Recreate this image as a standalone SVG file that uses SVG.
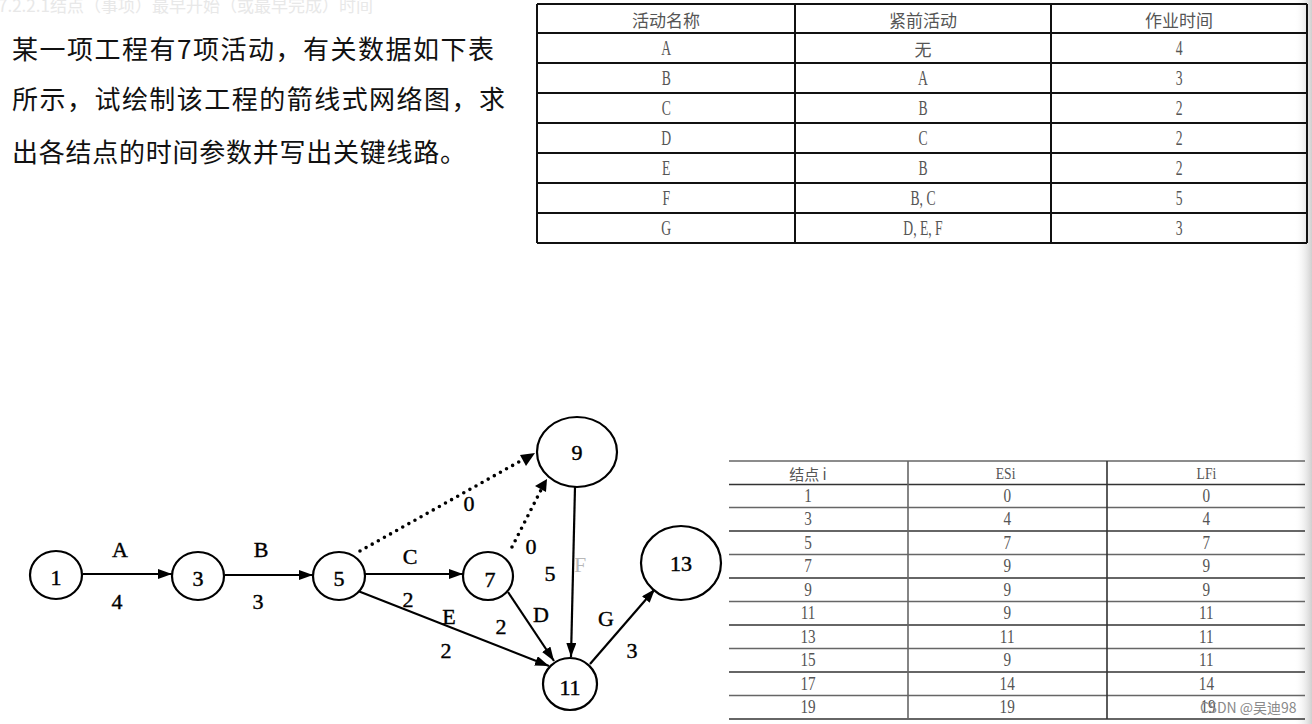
<svg xmlns="http://www.w3.org/2000/svg" width="1312" height="724" viewBox="0 0 1312 724">
<defs>
<marker id="ah" viewBox="0 0 14 10" refX="14" refY="5" markerWidth="14" markerHeight="10" markerUnits="userSpaceOnUse" orient="auto"><path d="M0,0 L14,5 L0,10 z" fill="#000"/></marker>
<linearGradient id="edge" x1="0" y1="0" x2="1" y2="0"><stop offset="0" stop-color="#fff" stop-opacity="0"/><stop offset="1" stop-color="#cfcfcf"/></linearGradient>
<style>
.node ellipse{fill:#fff;stroke:#000;stroke-width:2.2}
.nt{font-family:"Liberation Serif","DejaVu Serif",serif;font-size:22px;fill:#000;text-anchor:middle;dominant-baseline:central;stroke:#000;stroke-width:0.45}
.edge{stroke:#000;stroke-width:2.2;fill:none}
.dot{stroke:#000;stroke-width:3.6;stroke-linecap:round;stroke-dasharray:0 7;fill:none}
.lbl{font-family:"Liberation Serif","DejaVu Serif",serif;font-size:22px;fill:#000;text-anchor:middle;dominant-baseline:central;stroke:#000;stroke-width:0.4}
.faint{fill:#b8b8b8;stroke:none}
.para{font-family:"Noto Sans CJK SC","Noto Sans",sans-serif;font-size:26px;fill:#111}
.tl{stroke:#111;stroke-width:2}
.bl{stroke:#666;stroke-width:1.6}
.bd{stroke:#333;stroke-width:1.6}
.cj{font-family:"Noto Sans CJK SC",sans-serif;font-size:17px;fill:#555;text-anchor:middle;dominant-baseline:central}
.cn{font-family:"Liberation Serif",serif;font-size:21px;fill:#555;text-anchor:middle;dominant-baseline:central}
.bt{font-family:"Liberation Serif",serif;font-size:19px;fill:#555;text-anchor:middle;dominant-baseline:central}
</style>
</defs>
<rect width="1312" height="724" fill="#fff"/>
<rect x="1294" y="0" width="18" height="724" fill="url(#edge)"/>

<g id="heading">
<text x="-2" y="12" font-family="Noto Sans CJK SC,sans-serif" font-size="17" fill="#e8e8e8">7.2.2.1结点（事项）最早开始（或最早完成）时间</text>
<text class="para" x="12" y="59" textLength="482" lengthAdjust="spacing">某一项工程有7项活动，有关数据如下表</text>
<text class="para" x="12" y="109" textLength="493" lengthAdjust="spacing">所示，试绘制该工程的箭线式网络图，求</text>
<text class="para" x="12" y="162" textLength="454" lengthAdjust="spacing">出各结点的时间参数并写出关键线路。</text>
</g>

<g id="table-activities">
<line class="tl" x1="537" y1="4" x2="1307" y2="4"/>
<line class="tl" x1="537" y1="33" x2="1307" y2="33"/>
<line class="tl" x1="537" y1="63" x2="1307" y2="63"/>
<line class="tl" x1="537" y1="93" x2="1307" y2="93"/>
<line class="tl" x1="537" y1="123" x2="1307" y2="123"/>
<line class="tl" x1="537" y1="153" x2="1307" y2="153"/>
<line class="tl" x1="537" y1="183" x2="1307" y2="183"/>
<line class="tl" x1="537" y1="213" x2="1307" y2="213"/>
<line class="tl" x1="537" y1="243" x2="1307" y2="243"/>
<line class="tl" x1="537" y1="4" x2="537" y2="243"/>
<line class="tl" x1="795" y1="4" x2="795" y2="243"/>
<line class="tl" x1="1051" y1="4" x2="1051" y2="243"/>
<line class="tl" x1="1307" y1="4" x2="1307" y2="243"/>
<text class="cj" x="666" y="19">活动名称</text>
<text class="cj" x="923" y="19">紧前活动</text>
<text class="cj" x="1179" y="19">作业时间</text>
<text class="cj" x="923" y="48">无</text>
<g transform="scale(0.65,1)">
<text class="cn" x="1025" y="48">A</text><text class="cn" x="1814" y="48">4</text>
<text class="cn" x="1025" y="78">B</text><text class="cn" x="1420" y="78">A</text><text class="cn" x="1814" y="78">3</text>
<text class="cn" x="1025" y="108">C</text><text class="cn" x="1420" y="108">B</text><text class="cn" x="1814" y="108">2</text>
<text class="cn" x="1025" y="138">D</text><text class="cn" x="1420" y="138">C</text><text class="cn" x="1814" y="138">2</text>
<text class="cn" x="1025" y="168">E</text><text class="cn" x="1420" y="168">B</text><text class="cn" x="1814" y="168">2</text>
<text class="cn" x="1025" y="198">F</text><text class="cn" x="1420" y="198">B, C</text><text class="cn" x="1814" y="198">5</text>
<text class="cn" x="1025" y="228">G</text><text class="cn" x="1420" y="228">D, E, F</text><text class="cn" x="1814" y="228">3</text>
</g>
</g>

<g id="connectors">
<line class="edge" x1="83" y1="574" x2="172" y2="574" marker-end="url(#ah)"/>
<line class="edge" x1="225" y1="575" x2="313" y2="575" marker-end="url(#ah)"/>
<line class="edge" x1="365" y1="574" x2="463" y2="574" marker-end="url(#ah)"/>
<line class="edge" x1="358" y1="591" x2="549" y2="666" marker-end="url(#ah)"/>
<line class="edge" x1="508" y1="592" x2="554" y2="661" marker-end="url(#ah)"/>
<line class="edge" x1="575" y1="487" x2="571" y2="657" marker-end="url(#ah)"/>
<line class="edge" x1="590" y1="664" x2="655" y2="589" marker-end="url(#ah)"/>
<line class="dot" x1="360" y1="551" x2="524" y2="459"/>
<path d="M535,453 L520,455 L526,466 z" fill="#000"/>
<line class="dot" x1="512" y1="547" x2="541" y2="490"/>
<path d="M547,479 L535,486 L546,492 z" fill="#000"/>
<text class="lbl" x="120" y="549">A</text>
<text class="lbl" x="117" y="601">4</text>
<text class="lbl" x="261" y="549">B</text>
<text class="lbl" x="258" y="601">3</text>
<text class="lbl" x="410" y="556">C</text>
<text class="lbl" x="408" y="599">2</text>
<text class="lbl" x="449" y="616">E</text>
<text class="lbl" x="446" y="650">2</text>
<text class="lbl" x="501" y="626">2</text>
<text class="lbl" x="541" y="614">D</text>
<text class="lbl" x="550" y="573">5</text>
<text class="lbl faint" x="580" y="564">F</text>
<text class="lbl" x="606" y="618">G</text>
<text class="lbl" x="632" y="650">3</text>
<text class="lbl" x="469" y="503">0</text>
<text class="lbl" x="531" y="546">0</text>
</g>

<g id="node-1" class="node"><ellipse cx="56" cy="575" rx="26" ry="24"/><text class="nt" x="56" y="577">1</text></g>
<g id="node-3" class="node"><ellipse cx="198" cy="576" rx="26" ry="24"/><text class="nt" x="198" y="578">3</text></g>
<g id="node-5" class="node"><ellipse cx="339" cy="576" rx="26" ry="24"/><text class="nt" x="339" y="578">5</text></g>
<g id="node-7" class="node"><ellipse cx="488" cy="576" rx="25" ry="24"/><text class="nt" x="490" y="579">7</text></g>
<g id="node-9" class="node"><ellipse cx="577" cy="452" rx="40" ry="35"/><text class="nt" x="577" y="452">9</text></g>
<g id="node-11" class="node"><ellipse cx="570" cy="684" rx="27" ry="26"/><text class="nt" x="570" y="687">11</text></g>
<g id="node-13" class="node"><ellipse cx="681" cy="563" rx="40" ry="37"/><text class="nt" x="681" y="563">13</text></g>

<g id="table-times">
<line class="bl" x1="729" y1="461" x2="1305" y2="461"/>
<line class="bd" x1="729" y1="484.5" x2="1305" y2="484.5"/>
<line class="bl" x1="729" y1="507.5" x2="1305" y2="507.5"/>
<line class="bd" x1="729" y1="531" x2="1305" y2="531"/>
<line class="bl" x1="729" y1="554.5" x2="1305" y2="554.5"/>
<line class="bd" x1="729" y1="578" x2="1305" y2="578"/>
<line class="bl" x1="729" y1="601.5" x2="1305" y2="601.5"/>
<line class="bd" x1="729" y1="625" x2="1305" y2="625"/>
<line class="bl" x1="729" y1="648.5" x2="1305" y2="648.5"/>
<line class="bd" x1="729" y1="672" x2="1305" y2="672"/>
<line class="bl" x1="729" y1="695.5" x2="1305" y2="695.5"/>
<line class="bd" x1="729" y1="719" x2="1305" y2="719"/>
<line class="bl" x1="908" y1="461" x2="908" y2="719"/>
<line class="bd" x1="1107" y1="461" x2="1107" y2="719"/>
<text class="cj" x="808" y="473" style="font-size:15px">结点 i</text>
<g transform="scale(0.8,1)">
<text class="bt" x="1257" y="473" style="font-size:17px">ESi</text><text class="bt" x="1508" y="473" style="font-size:17px">LFi</text>
<text class="bt" x="1010" y="496">1</text><text class="bt" x="1259" y="496">0</text><text class="bt" x="1508" y="496">0</text>
<text class="bt" x="1010" y="519">3</text><text class="bt" x="1259" y="519">4</text><text class="bt" x="1508" y="519">4</text>
<text class="bt" x="1010" y="543">5</text><text class="bt" x="1259" y="543">7</text><text class="bt" x="1508" y="543">7</text>
<text class="bt" x="1010" y="566">7</text><text class="bt" x="1259" y="566">9</text><text class="bt" x="1508" y="566">9</text>
<text class="bt" x="1010" y="590">9</text><text class="bt" x="1259" y="590">9</text><text class="bt" x="1508" y="590">9</text>
<text class="bt" x="1010" y="613">11</text><text class="bt" x="1259" y="613">9</text><text class="bt" x="1508" y="613">11</text>
<text class="bt" x="1010" y="637">13</text><text class="bt" x="1259" y="637">11</text><text class="bt" x="1508" y="637">11</text>
<text class="bt" x="1010" y="660">15</text><text class="bt" x="1259" y="660">9</text><text class="bt" x="1508" y="660">11</text>
<text class="bt" x="1010" y="684">17</text><text class="bt" x="1259" y="684">14</text><text class="bt" x="1508" y="684">14</text>
<text class="bt" x="1010" y="707">19</text><text class="bt" x="1259" y="707">19</text><text class="bt" x="1510" y="707">19</text>
</g>
</g>

<g id="watermark">
<text x="1200" y="713" font-family="Noto Sans CJK SC,sans-serif" font-size="14" fill="#8a8a8a">CSDN @吴迪98</text>
</g>
</svg>
